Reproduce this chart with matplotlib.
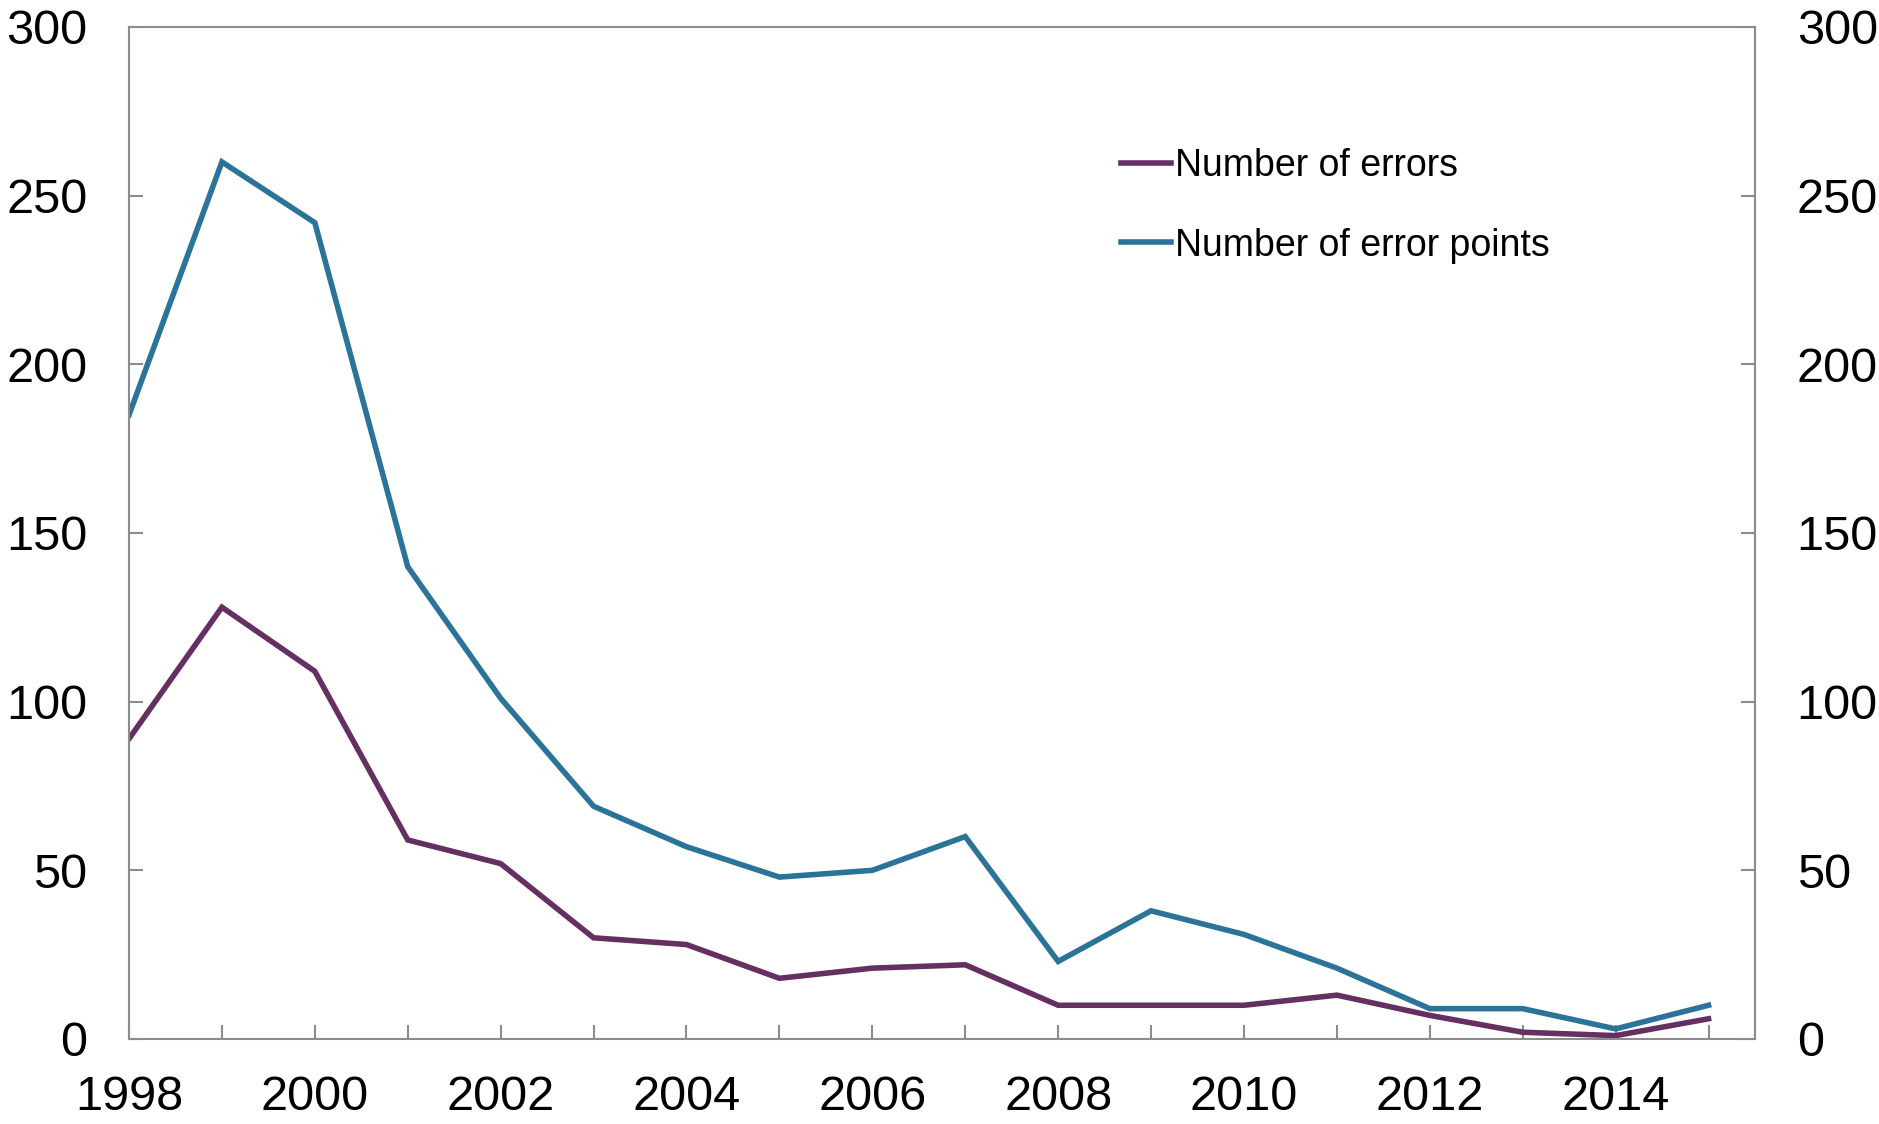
import matplotlib.pyplot as plt
from matplotlib.ticker import MultipleLocator

plt.rcParams['font.family'] = ['Liberation Sans', 'DejaVu Sans']

years = list(range(1998, 2016))
errors = [89, 128, 109, 59, 52, 30, 28, 18, 21, 22, 10, 10, 10, 13, 7, 2, 1, 6]
error_points = [185, 260, 242, 140, 101, 69, 57, 48, 50, 60, 23, 38, 31, 21, 9, 9, 3, 10]

purple = '#652f62'
blue = '#2b7399'
grey = '#8c8c8c'

fig = plt.figure(figsize=(18.79, 11.24), dpi=100)
ax = fig.add_axes([129/1879, 1 - 1039/1124, (1755-129)/1879, (1039-27)/1124])

ax.plot(years, errors, color=purple, lw=4, label='Number of errors', solid_joinstyle='miter')
ax.plot(years, error_points, color=blue, lw=4, label='Number of error points', solid_joinstyle='miter')

ax.set_xlim(1998, 2015.5)
ax.set_ylim(0, 300)
ax.xaxis.set_major_locator(MultipleLocator(2))
ax.xaxis.set_minor_locator(MultipleLocator(1))
ax.yaxis.set_major_locator(MultipleLocator(50))

for s in ax.spines.values():
    s.set_color(grey)
    s.set_linewidth(1.5)

ax.tick_params(axis='y', which='both', direction='in', length=10, width=1.5, color=grey,
               labelsize=35, pad=30, left=True, right=True, labelleft=True, labelright=True)
ax.tick_params(axis='x', which='both', direction='in', length=10, width=1.5, color=grey,
               labelsize=35, pad=26)

leg = ax.legend(loc='upper left', bbox_to_anchor=(0.61, 0.88), frameon=False, fontsize=27,
                handlelength=1.35, handletextpad=0.1, labelspacing=1.15, borderpad=0, borderaxespad=0)

fig.savefig('out.png', dpi=100)
